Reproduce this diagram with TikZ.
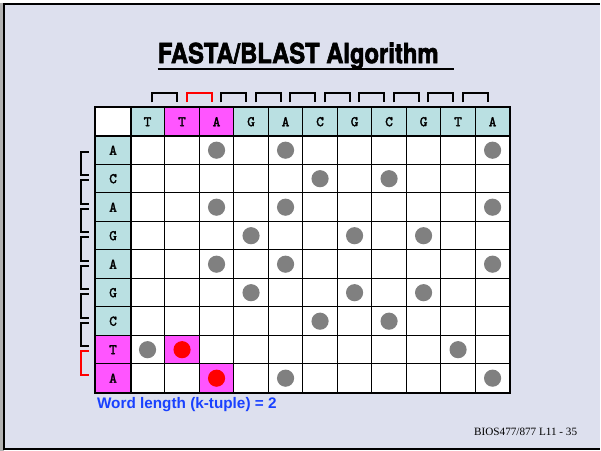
\documentclass[tikz,border=0pt]{standalone}
\usepackage{fontspec}
\setmainfont{Liberation Serif}
\newfontfamily\titlefont[BoldFeatures={FakeBold=2.4}]{TeX Gyre Heros}
\newfontfamily\cellfont[FakeBold=2.2]{Latin Modern Mono}
\newfontfamily\notefont{Liberation Sans}
\definecolor{slidebg}{RGB}{221,224,238}
\definecolor{seqcyan}{RGB}{186,224,226}
\definecolor{hitpink}{RGB}{255,85,255}
\definecolor{hitgray}{RGB}{128,128,128}
\definecolor{noteblue}{RGB}{25,65,255}
\tikzset{
  cellbox/.style={draw=black, line width=0.7pt, minimum width=25.94pt,
    minimum height=21.42pt, inner sep=0pt,
    font=\cellfont\fontsize{11}{12}\selectfont},
  seqbox/.style={cellbox, fill=seqcyan},
  hitbox/.style={cellbox, fill=hitpink},
  hitdot/.style={circle, fill=hitgray, minimum size=12.9pt, inner sep=0pt},
  gridrule/.style={line width=1.4pt},
  wordbracket/.style={line width=1.5pt},
}
\begin{document}
\begin{tikzpicture}[x=0.75pt,y=-0.75pt]
    % slide frame
    \fill[white] (0,0) rectangle (601,452);
    \fill[gray!60] (0,3) rectangle (4,452);
    \fill[slidebg] (4,4) rectangle (601,450);
    \draw[line width=2pt] (601,4) -- (4,4) -- (4,450) -- (601,450);
    % title
    \node[anchor=base west, inner sep=0pt, font=\titlefont\bfseries\fontsize{20.8}{24}\selectfont]
      (title) at (158,63.3) {\scalebox{0.86}[1]{FASTA/BLAST Algorithm}};
    \draw[line width=1.5pt] (158,69) -- (455,69);
    % header row
    \node[cellbox, fill=white] (corner) at (113.3,122) {};
    \foreach \cl/\sty [count=\j] in {T/seqbox,T/hitbox,A/hitbox,G/seqbox,A/seqbox,C/seqbox,G/seqbox,C/seqbox,G/seqbox,T/seqbox,A/seqbox}
      \node[\sty] (h\j) at ({96+34.58*(\j+0.5)},122) {\cl};
    % rows, cells and hits
    \foreach \rl [count=\i] in {A,C,A,G,A,G,C,T,A}{
      \def\rowsty{seqbox}
      \ifnum\i>7 \def\rowsty{hitbox}\fi
      \node[\rowsty] (r\i) at (113.3,{107.7+28.56*(\i+0.5)}) {\rl};
      \foreach \cl [count=\j] in {T,T,A,G,A,C,G,C,G,T,A}{
        \def\cellfill{white}
        \def\dotfill{hitgray}
        \ifnum\i\j=82 \def\cellfill{hitpink}\def\dotfill{red}\fi
        \ifnum\i\j=93 \def\cellfill{hitpink}\def\dotfill{red}\fi
        \node[cellbox, fill=\cellfill] (c\i-\j) at ({96+34.58*(\j+0.5)},{107.7+28.56*(\i+0.5)}) {};
        \ifx\rl\cl
          \node[hitdot, fill=\dotfill] (d\i-\j) at (c\i-\j) {};
        \fi
      }
    }
    % heavy rules
    \draw[gridrule] (corner.north west) rectangle (c9-11.south east);
    \draw[gridrule] (corner.south west) -- (h11.south east);
    \draw[gridrule] (corner.north east) -- (r9.south east);
    % word brackets on top
    \foreach \k in {1,...,10}{
      \def\brc{black}
      \ifnum\k=2 \def\brc{red}\fi
      \draw[wordbracket, draw=\brc] ({96+34.58*(\k+1)-12.5},102.7) -- ({96+34.58*(\k+1)-12.5},93.3)
        -- ({96+34.58*(\k+1)+12.5},93.3) -- ({96+34.58*(\k+1)+12.5},102.7);
    }
    % word brackets on the left
    \foreach \k in {1,...,8}{
      \def\brc{black}
      \ifnum\k=8 \def\brc{red}\fi
      \draw[wordbracket, draw=\brc] (89,{107.7+28.56*(\k+1)-12.5}) -- (81,{107.7+28.56*(\k+1)-12.5})
        -- (81,{107.7+28.56*(\k+1)+11}) -- (89,{107.7+28.56*(\k+1)+11});
    }
    % notes
    \node[anchor=west, inner sep=0pt, text=noteblue, font=\notefont\bfseries\fontsize{11.5}{13}\selectfont]
      (wordlen) at (97,405) {Word length (k-tuple) = 2};
    \node[anchor=base west, inner sep=0pt, font=\fontsize{8.4}{10}\selectfont]
      (slideno) at (475,436) {BIOS477/877 L11 - 35};
\end{tikzpicture}
\end{document}
